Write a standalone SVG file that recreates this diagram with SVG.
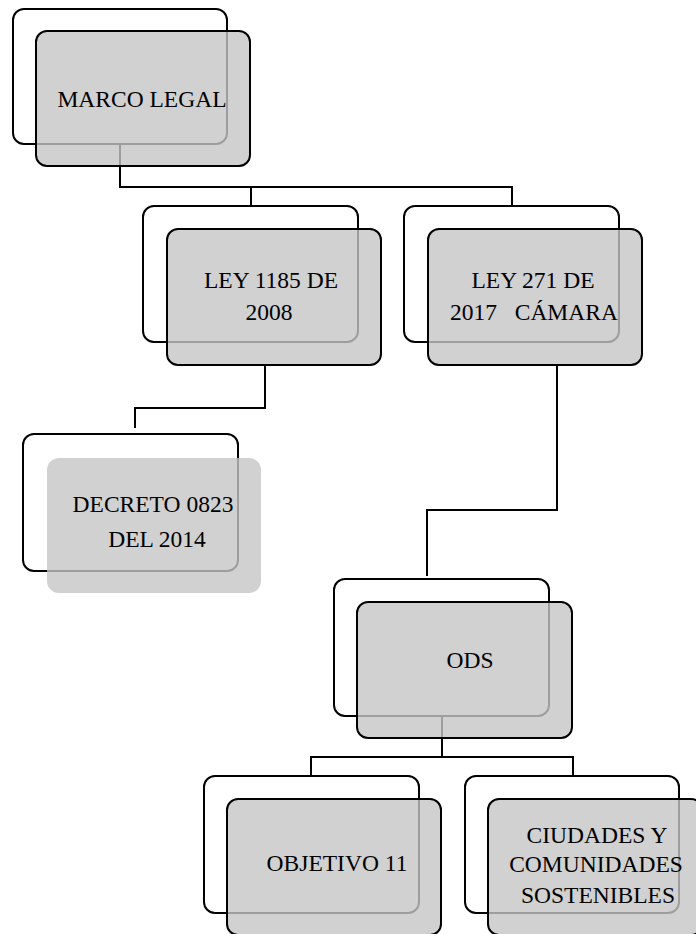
<svg xmlns="http://www.w3.org/2000/svg" width="696" height="934" viewBox="0 0 696 934">
<style>
.back{fill:#ffffff;stroke:#000;stroke-width:2}
.front{fill:#c6c6c6;fill-opacity:0.8;stroke:#000;stroke-width:2}
.soft{fill:#c6c6c6;fill-opacity:0.8;stroke:none}
.conn{fill:none;stroke:#000;stroke-width:2}
text{font-family:"Liberation Serif","Times New Roman",serif;font-size:23.5px;fill:#000;text-anchor:middle;white-space:pre}
</style>
<rect width="696" height="934" fill="#fff"/>
<g id="backs">
<rect class="back" x="13" y="9" width="214" height="135" rx="11"/>
<rect class="back" x="143" y="206" width="215" height="136" rx="11"/>
<rect class="back" x="404" y="206" width="215" height="136" rx="11"/>
<rect class="back" x="23" y="434" width="215" height="137" rx="11"/>
<rect class="back" x="334" y="579" width="215" height="137" rx="11"/>
<rect class="back" x="204" y="776" width="215" height="137" rx="11"/>
<rect class="back" x="465" y="776" width="214" height="137" rx="11"/>
</g>
<g id="connectors">
<polyline class="conn" points="120,144 120,187 512,187 512,206"/>
<line class="conn" x1="251" y1="187" x2="251" y2="206"/>
<polyline class="conn" points="265,365 265,408 135,408 135,428"/>
<polyline class="conn" points="557,365 557,510 427,510 427,576"/>
<polyline class="conn" points="442,716 442,757 311,757 311,776"/>
<polyline class="conn" points="442,757 573,757 573,776"/>
</g>
<g id="marco-legal">
<rect class="front" x="36" y="31" width="214" height="135" rx="11"/>
<text x="142" y="107">MARCO LEGAL</text>
</g>
<g id="ley-1185">
<rect class="front" x="167" y="229" width="214" height="136" rx="11"/>
<text x="271" y="288">LEY 1185 DE</text>
<text x="269" y="320">2008</text>
</g>
<g id="ley-271">
<rect class="front" x="428" y="229" width="214" height="136" rx="11"/>
<text x="533" y="288">LEY 271 DE</text>
<text x="534" y="320">2017   CÁMARA</text>
</g>
<g id="decreto">
<rect class="soft" x="47" y="458" width="214" height="135" rx="12"/>
<text x="153" y="512">DECRETO 0823</text>
<text x="157" y="547">DEL 2014</text>
</g>
<g id="ods">
<rect class="front" x="357" y="602" width="215" height="136" rx="11"/>
<text x="470" y="668">ODS</text>
</g>
<g id="objetivo-11">
<rect class="front" x="227" y="799" width="214" height="136" rx="11"/>
<text x="337" y="871">OBJETIVO 11</text>
</g>
<g id="ciudades">
<rect class="front" x="488" y="799" width="214" height="136" rx="11"/>
<text x="597" y="843">CIUDADES Y</text>
<text x="596" y="872">COMUNIDADES</text>
<text x="598" y="903">SOSTENIBLES</text>
</g>
</svg>
